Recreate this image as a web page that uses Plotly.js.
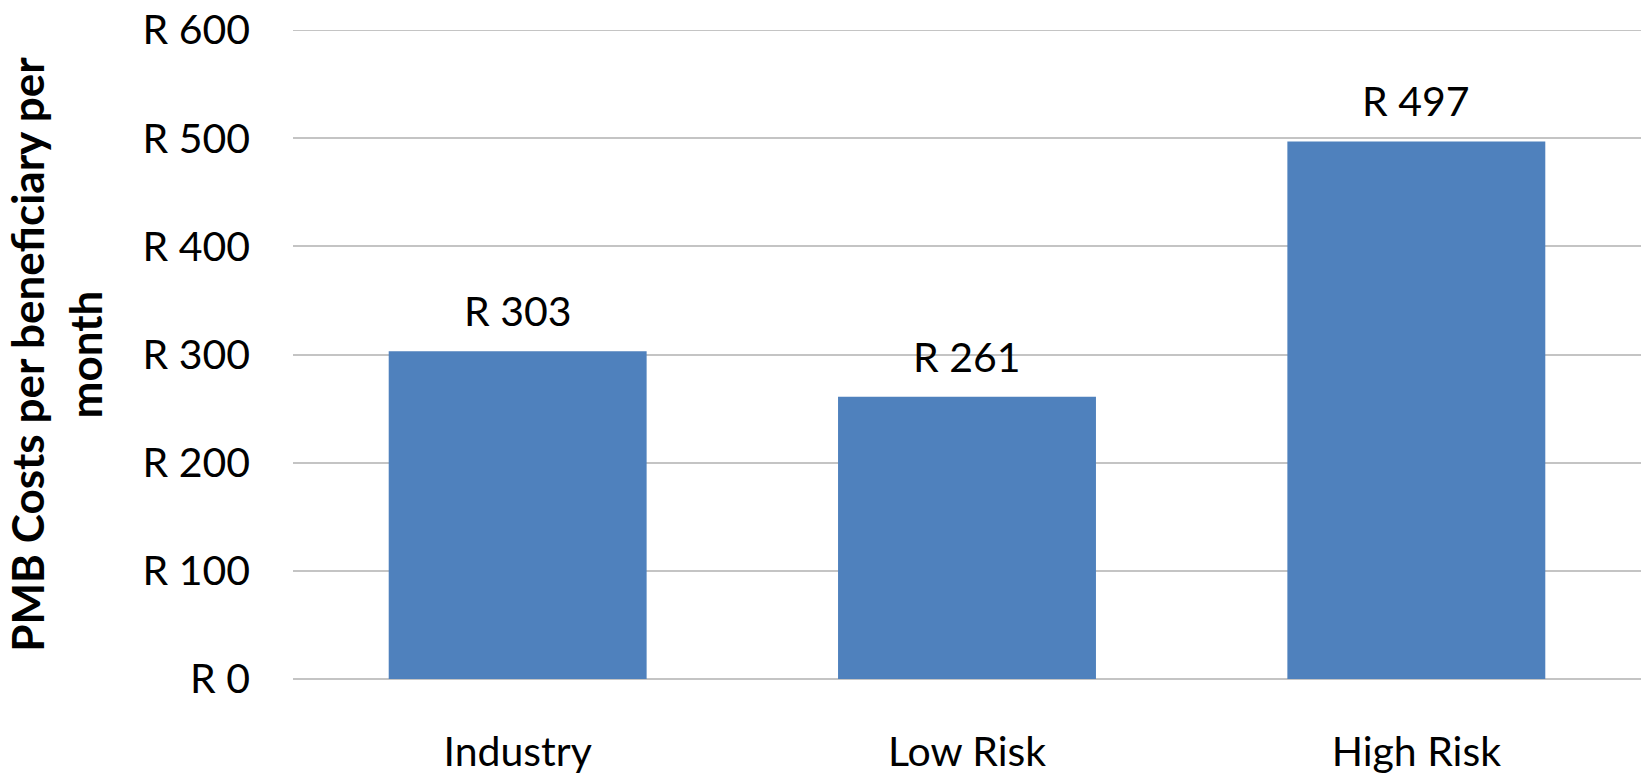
<!DOCTYPE html>
<html>
<head>
<meta charset="utf-8">
<script src="https://cdn.plot.ly/plotly-3.0.1.min.js"></script>
<style>
  html, body { margin: 0; padding: 0; background: #ffffff; }
  #chart { width: 1644px; height: 778px; }
</style>
</head>
<body>
<div id="chart"></div>
<script>
const categories = ["Industry", "Low Risk", "High Risk"];
const costs = [303, 261, 497];
const valueLabels = ["R 303", "R 261", "R 497"];
const yTickValues = [0, 100, 200, 300, 400, 500, 600];
const yTickLabels = ["R 0", "R 100", "R 200", "R 300", "R 400", "R 500", "R 600"];

const trace = {
  type: "bar",
  x: categories,
  y: costs,
  marker: { color: "#4f81bd" },
  hoverinfo: "skip"
};

const annotations = categories.map((c, i) => ({
  x: c,
  y: costs[i],
  xref: "x",
  yref: "y",
  text: valueLabels[i],
  showarrow: false,
  yanchor: "bottom",
  yshift: 14,
  font: { family: "Lato, sans-serif", size: 41, color: "#000000" }
}));

const topValue = yTickValues[yTickValues.length - 1];

const layout = {
  width: 1644,
  height: 778,
  margin: { l: 293, r: 3, t: 30, b: 99 },
  paper_bgcolor: "#ffffff",
  plot_bgcolor: "#ffffff",
  showlegend: false,
  bargap: 0.426,
  font: { family: "Lato, sans-serif", size: 41, color: "#000000" },
  xaxis: {
    type: "category",
    showgrid: false,
    showline: false,
    zeroline: false,
    ticks: "",
    ticklabelstandoff: 45,
    tickfont: { family: "Lato, sans-serif", size: 41, color: "#000000" }
  },
  yaxis: {
    range: [0, topValue],
    tickvals: yTickValues,
    ticktext: yTickLabels,
    showgrid: true,
    gridcolor: "#c4c4c4",
    gridwidth: 2,
    zeroline: true,
    zerolinecolor: "#c4c4c4",
    zerolinewidth: 2,
    showline: false,
    ticks: "",
    ticklabelstandoff: 42,
    tickfont: { family: "Lato, sans-serif", size: 41, color: "#000000" },
    title: {
      text: "PMB Costs per beneficiary per<br>month",
      standoff: 26,
      font: { family: "Lato, sans-serif", size: 44, color: "#000000", weight: "bold" }
    }
  },
  shapes: [{
    type: "line",
    xref: "paper",
    yref: "y",
    x0: 0,
    x1: 1,
    y0: topValue,
    y1: topValue,
    line: { color: "#c4c4c4", width: 2 },
    layer: "below"
  }],
  annotations: annotations
};

Plotly.newPlot("chart", [trace], layout, { displayModeBar: false, staticPlot: true });
</script>
</body>
</html>
